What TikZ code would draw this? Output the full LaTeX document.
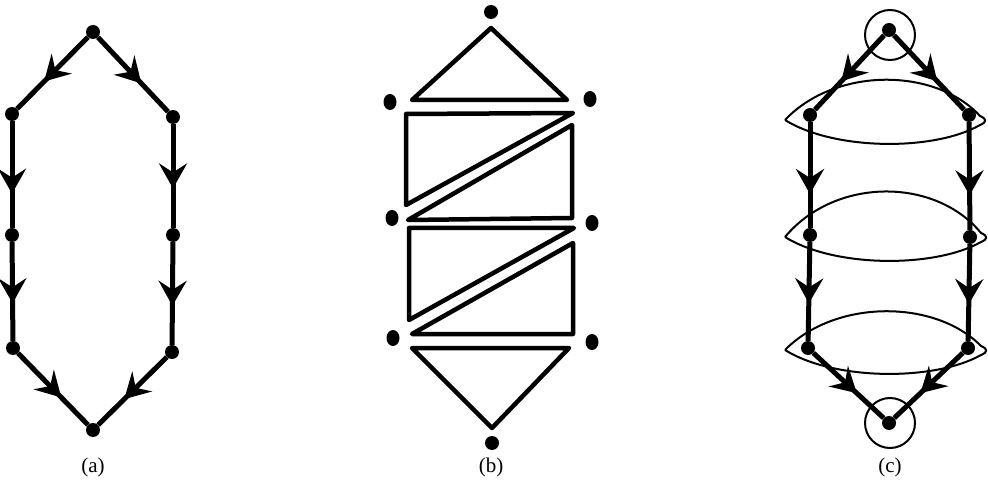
\documentclass[tikz,border=0pt]{standalone}
\usepackage{fontspec}
\setmainfont{Liberation Serif}
\usetikzlibrary{arrows.meta,decorations.markings,shapes.geometric}
\begin{document}
\begin{tikzpicture}[x=1pt,y=-1pt,
  vdot/.style={circle,fill=black,inner sep=0pt,minimum size=14pt},
  odot/.style={ellipse,fill=black,inner sep=0pt,minimum width=13pt,minimum height=16pt},
  pathline/.style={line width=5pt},
  midarr/.style={decoration={markings,mark=at position #1 with
    {\arrow{Stealth[length=25pt,width=28pt,inset=9pt]}}},postaction={decorate}},
  tri/.style={line width=4.5pt,line join=round},
  halo/.style={circle,draw,line width=2pt,minimum size=50pt,inner sep=0pt},
  lens/.style={line width=2pt,line join=round},
  panel/.style={font=\fontsize{21}{24}\selectfont}]
  \useasboundingbox (0,0) rectangle (988,481);

  % (a) directed hexagon
  \node[vdot] (atop) at (93,32) {};
  \node[vdot] (al1) at (12,114) {};
  \node[vdot] (al2) at (12,235) {};
  \node[vdot] (al3) at (13,348) {};
  \node[vdot] (ar1) at (173,117) {};
  \node[vdot] (ar2) at (173,235) {};
  \node[vdot] (ar3) at (172,352) {};
  \node[vdot] (abot) at (93,430) {};
  \draw[pathline,midarr=0.62] (atop) -- (al1);
  \draw[pathline,midarr=0.62] (atop) -- (ar1);
  \draw[pathline,midarr=0.68] (al1) -- (al2);
  \draw[pathline,midarr=0.62] (al2) -- (al3);
  \draw[pathline,midarr=0.62] (ar1) -- (ar2);
  \draw[pathline,midarr=0.62] (ar2) -- (ar3);
  \draw[pathline,midarr=0.62] (al3) -- (abot);
  \draw[pathline,midarr=0.62] (ar3) -- (abot);
  \node[panel] (alab) at (93,467) {(a)};

  % (b) triangulated strip
  \node[vdot] (btop) at (491,12) {};
  \node[odot] (bl1) at (390,102) {};
  \node[odot] (br1) at (590,99) {};
  \node[odot] (bl2) at (392,218) {};
  \node[odot] (br2) at (592,223) {};
  \node[odot] (bl3) at (393,338) {};
  \node[odot] (br3) at (592,342) {};
  \node[vdot] (bbot) at (492,443) {};
  \draw[tri] (491,28) -- (412,100) -- (567,100) -- cycle;
  \draw[tri] (406,114) -- (573,113) -- (406,205) -- cycle;
  \draw[tri] (572,125) -- (572,218) -- (408,220) -- cycle;
  \draw[tri] (409,228) -- (574,228) -- (409,320) -- cycle;
  \draw[tri] (573,243) -- (573,334) -- (412,334) -- cycle;
  \draw[tri] (412,348) -- (569,348) -- (492,428) -- cycle;
  \node[panel] (blab) at (491,467) {(b)};

  % (c) hexagon with layers
  \node[halo] (ctopring) at (890,35) {};
  \node[halo] (cbotring) at (890,423) {};
  \node[vdot] (ctop) at (889,30) {};
  \node[vdot] (cl1) at (810,115) {};
  \node[vdot] (cl2) at (810,235) {};
  \node[vdot] (cl3) at (808,348) {};
  \node[vdot] (cr1) at (969,115) {};
  \node[vdot] (cr2) at (970,237) {};
  \node[vdot] (cr3) at (968,348) {};
  \node[vdot] (cbot) at (889,423) {};
  \draw[pathline,midarr=0.62] (ctop) -- (cl1);
  \draw[pathline,midarr=0.62] (ctop) -- (cr1);
  \draw[pathline,midarr=0.68] (cl1) -- (cl2);
  \draw[pathline,midarr=0.62] (cl2) -- (cl3);
  \draw[pathline,midarr=0.68] (cr1) -- (cr2);
  \draw[pathline,midarr=0.62] (cr2) -- (cr3);
  \draw[pathline,midarr=0.62] (cl3) -- (cbot);
  \draw[pathline,midarr=0.62] (cr3) -- (cbot);
  % lenses
  \draw[lens] (785,120) .. controls (835,67) and (935,67) .. (980,116)
    .. controls (987,119) and (987,122) .. (980,125)
    .. controls (935,151) and (835,151) .. (785,120);
  \draw[lens] (785,237) .. controls (835,177) and (935,177) .. (981,233)
    .. controls (988,236) and (988,239) .. (981,242)
    .. controls (935,268) and (835,268) .. (785,237);
  \draw[lens] (785,350) .. controls (835,299) and (935,299) .. (981,346)
    .. controls (988,349) and (988,352) .. (981,355)
    .. controls (935,381) and (835,381) .. (785,350);
  \node[panel] (clab) at (890,467) {(c)};
\end{tikzpicture}
\end{document}
